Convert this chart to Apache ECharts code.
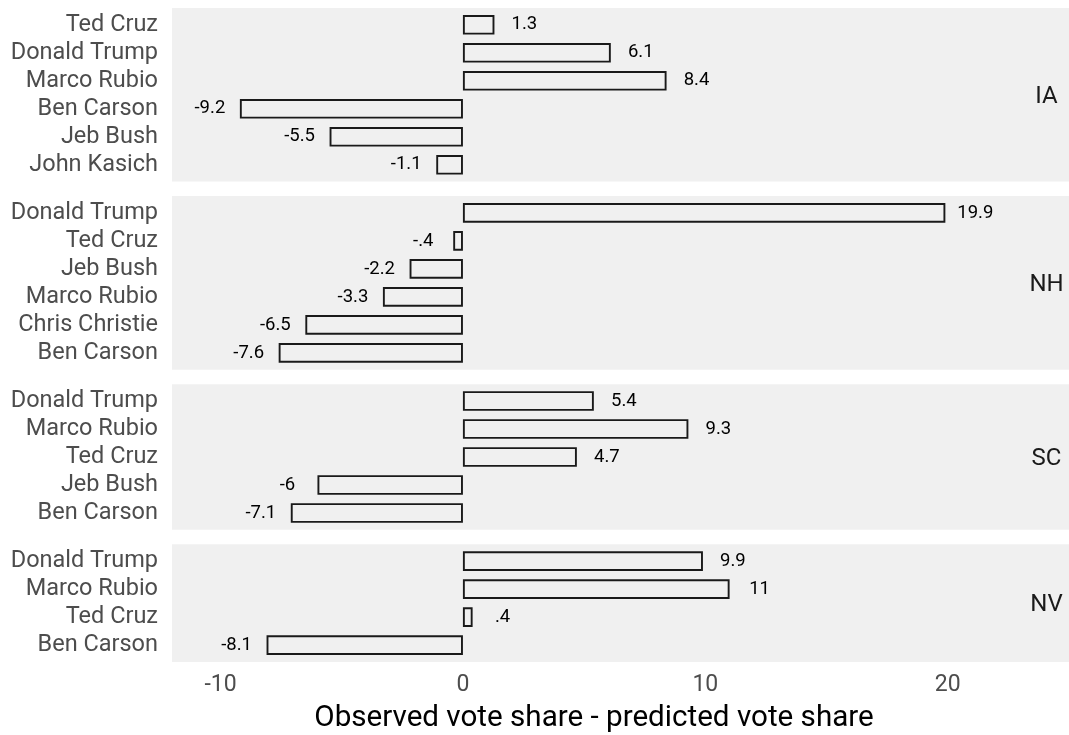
<!DOCTYPE html>
<html>
<head>
<meta charset="utf-8">
<script src="https://cdn.jsdelivr.net/npm/echarts@6/dist/echarts.min.js"></script>
<style>
html,body{margin:0;padding:0;background:#fff;}
#chart{width:1069px;height:735px;}
</style>
</head>
<body>
<div id="chart"></div>
<script>
// ---- data ----
var states = ['IA', 'NH', 'SC', 'NV'];
var iaCandidates = ['Ted Cruz', 'Donald Trump', 'Marco Rubio', 'Ben Carson', 'Jeb Bush', 'John Kasich'];
var iaValues = [1.3, 6.1, 8.4, -9.2, -5.5, -1.1];
var nhCandidates = ['Donald Trump', 'Ted Cruz', 'Jeb Bush', 'Marco Rubio', 'Chris Christie', 'Ben Carson'];
var nhValues = [19.9, -0.4, -2.2, -3.3, -6.5, -7.6];
var scCandidates = ['Donald Trump', 'Marco Rubio', 'Ted Cruz', 'Jeb Bush', 'Ben Carson'];
var scValues = [5.4, 9.3, 4.7, -6, -7.1];
var nvCandidates = ['Donald Trump', 'Marco Rubio', 'Ted Cruz', 'Ben Carson'];
var nvValues = [9.9, 11, 0.4, -8.1];
var xTicks = [-10, 0, 10, 20];
var xTitle = 'Observed vote share - predicted vote share';

(function () {
  var panels = [
    {state: states[0], cats: iaCandidates, vals: iaValues},
    {state: states[1], cats: nhCandidates, vals: nhValues},
    {state: states[2], cats: scCandidates, vals: scValues},
    {state: states[3], cats: nvCandidates, vals: nvValues}
  ];

  // ---- layout ----
  var FONT = 'Roboto, "Noto Sans", sans-serif';
  var ROW = 28, PAD = 0.6 * ROW, GAP = 14.5, TOP0 = 8;
  var LEFT = 172, RIGHT = 0;
  var XMIN = -12, XMAX = 25;
  var BG = '#f0f0f0';

  function fmt(v) {
    return String(v).replace(/^(-?)0\./, '$1.');
  }

  var grid = [], xAxis = [], yAxis = [], series = [], graphic = [];
  var curTop = TOP0;
  panels.forEach(function (p, i) {
    var n = p.cats.length;
    var h = (n - 1) * ROW + 2 * PAD;
    var last = i === panels.length - 1;
    // background grid (panel)
    grid.push({left: LEFT, right: RIGHT, top: curTop, height: h, show: true, backgroundColor: BG, borderWidth: 0});
    var bgIdx = grid.length - 1;
    xAxis.push({
      type: 'value', gridIndex: bgIdx, min: XMIN, max: XMAX,
      show: last,
      axisLine: {show: false}, axisTick: {show: false}, splitLine: {show: false},
      axisLabel: {show: last, customValues: xTicks, color: '#4d4d4d', fontSize: 23, fontFamily: FONT, margin: 11.5},
      name: last ? xTitle : '', nameLocation: 'middle', nameGap: 41.5,
      nameTextStyle: {color: '#000', fontSize: 29.6, fontFamily: FONT, padding: [0, 53, 0, 0]}
    });
    yAxis.push({type: 'value', gridIndex: bgIdx, show: false, min: 0, max: 1, splitLine: {show: false}});
    // data grid
    grid.push({left: LEFT, right: RIGHT, top: curTop + PAD - ROW / 2, height: n * ROW});
    var dIdx = grid.length - 1;
    xAxis.push({
      type: 'value', gridIndex: dIdx, min: XMIN, max: XMAX, show: false,
      splitLine: {show: false}
    });
    yAxis.push({
      type: 'category', gridIndex: dIdx, data: p.cats, inverse: true,
      axisLine: {show: false}, axisTick: {show: false}, splitLine: {show: false},
      axisLabel: {interval: 0, color: '#4d4d4d', fontSize: 23.5, fontFamily: FONT, margin: 14, padding: [4, 0, 0, 0]}
    });
    series.push({
      type: 'bar', xAxisIndex: dIdx, yAxisIndex: dIdx,
      barCategoryGap: '30%',
      itemStyle: {color: 'rgba(0,0,0,0)', borderColor: '#1a1a1a', borderWidth: 1.9},
      data: p.vals.map(function (v) {
        return {
          value: v,
          label: {position: v >= 0 ? 'right' : 'left'}
        };
      }),
      label: {
        show: true, distance: 30, align: 'center', verticalAlign: 'middle',
        color: '#000', fontSize: 18.5, fontFamily: FONT, padding: [3, 0, 0, 0],
        formatter: function (d) { return fmt(d.value); }
      },
      emphasis: {disabled: true},
      animation: false
    });
    graphic.push({
      type: 'text', x: 1046.5, y: curTop + h / 2 + 2,
      style: {text: p.state, fill: '#1a1a1a', font: '24px ' + FONT, align: 'center', verticalAlign: 'middle'}
    });
    curTop += h + GAP;
  });

  var chart = echarts.init(document.getElementById('chart'), null, {renderer: 'canvas'});
  chart.setOption({
    animation: false,
    grid: grid, xAxis: xAxis, yAxis: yAxis, series: series, graphic: graphic
  });
})();
</script>
</body>
</html>
